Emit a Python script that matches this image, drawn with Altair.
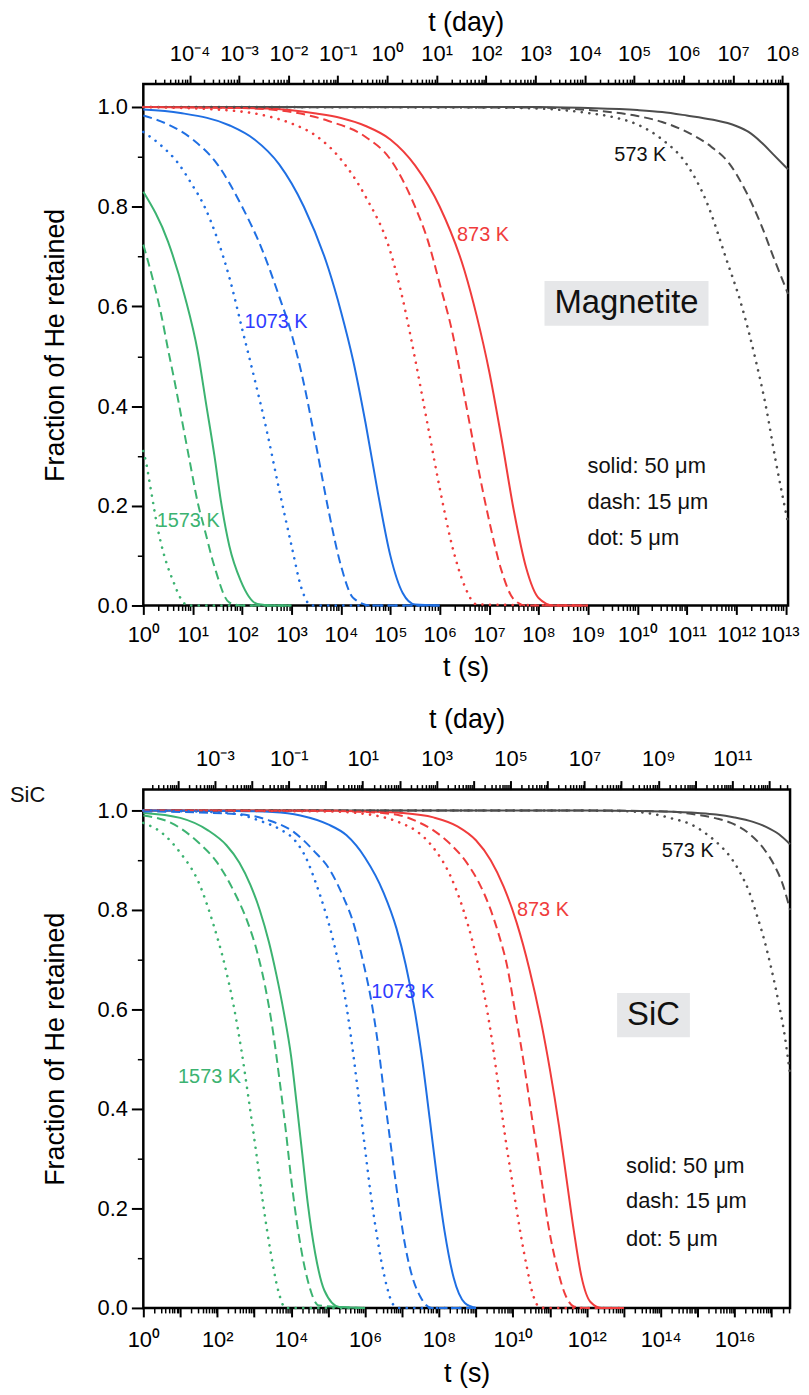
import math
import altair as alt
import pandas as pd

FONT = "Liberation Sans, Arial, Helvetica, sans-serif"
SEC_PER_DAY = 86400.0

TEMPS = ["573 K", "873 K", "1073 K", "1573 K"]
CURVE_COLORS = ["#4d4d4d", "#f03c3c", "#1f6fe3", "#3cb371"]
LABEL_COLORS = ["#111111", "#f03c3c", "#2f3cff", "#3cb371"]

# ---------------- Magnetite (top panel) ----------------
MAG_X_MAX_EXP = 13.05
MAG_Y_MAX = 1.046
MAG_BOTTOM_LABEL_EXPS = list(range(0, 14))
MAG_DAY_LABEL_EXPS = list(range(-4, 9))

mag_573_solid_lx = [0, 8.0, 9.0, 10.0, 10.5, 11.0, 11.5, 12.0, 12.25, 12.5, 12.75, 13.05]
mag_573_solid_f = [1.0, 1.0, 0.998, 0.994, 0.99, 0.983, 0.975, 0.962, 0.95, 0.93, 0.905, 0.875]
mag_573_dash_lx = [0, 8.0, 9.0, 10.0, 10.5, 11.0, 11.5, 11.85, 12.2, 12.5, 12.75, 13.05]
mag_573_dash_f = [1.0, 0.999, 0.994, 0.982, 0.97, 0.95, 0.92, 0.888, 0.83, 0.765, 0.70, 0.625]
mag_573_dot_lx = [0, 7.0, 8.0, 9.0, 9.5, 10.0, 10.5, 11.0, 11.4, 11.8, 12.1, 12.4, 12.6, 12.8, 13.05]
mag_573_dot_f = [1.0, 0.999, 0.997, 0.988, 0.98, 0.965, 0.935, 0.885, 0.81, 0.695, 0.605, 0.49, 0.40, 0.29, 0.165]

mag_873_solid_lx = [0, 2.5, 3.5, 4.0, 4.5, 5.0, 5.5, 6.0, 6.5, 6.75, 7.0, 7.25, 7.5, 7.75, 8.0, 8.3, 9.0]
mag_873_solid_f = [1.0, 0.997, 0.987, 0.978, 0.962, 0.935, 0.883, 0.80, 0.672, 0.58, 0.47, 0.335, 0.19, 0.075, 0.015, 0.0, 0.0]
mag_873_dash_lx = [0, 2.0, 3.0, 3.75, 4.5, 5.0, 5.5, 5.75, 6.0, 6.25, 6.5, 6.75, 7.0, 7.25, 7.5, 7.75, 9.0]
mag_873_dash_f = [1.0, 0.998, 0.99, 0.972, 0.94, 0.895, 0.80, 0.735, 0.645, 0.55, 0.42, 0.29, 0.17, 0.07, 0.012, 0.0, 0.0]
mag_873_dot_lx = [0, 1.5, 2.5, 3.0, 3.5, 4.0, 4.5, 5.0, 5.25, 5.5, 5.75, 6.0, 6.25, 6.5, 6.75, 9.0]
mag_873_dot_f = [1.0, 0.995, 0.982, 0.967, 0.942, 0.895, 0.82, 0.71, 0.615, 0.495, 0.365, 0.235, 0.12, 0.04, 0.002, 0.0]

mag_1073_solid_lx = [0, 0.75, 1.75, 2.25, 2.75, 3.25, 3.75, 4.0, 4.25, 4.5, 4.75, 5.0, 5.25, 5.5, 6.0]
mag_1073_solid_f = [0.995, 0.988, 0.963, 0.935, 0.885, 0.80, 0.675, 0.59, 0.49, 0.365, 0.225, 0.10, 0.025, 0.002, 0.0]
mag_1073_dash_lx = [0, 0.5, 1.0, 1.5, 2.0, 2.4, 2.75, 3.0, 3.25, 3.5, 3.75, 4.0, 4.25, 4.6, 6.0]
mag_1073_dash_f = [0.983, 0.965, 0.935, 0.885, 0.80, 0.715, 0.62, 0.545, 0.445, 0.32, 0.19, 0.08, 0.015, 0.0, 0.0]
mag_1073_dot_lx = [0, 0.37, 0.7, 0.97, 1.24, 1.5, 1.75, 2.0, 2.25, 2.5, 2.75, 3.0, 3.2, 3.4, 6.0]
mag_1073_dot_f = [0.95, 0.922, 0.888, 0.847, 0.80, 0.735, 0.655, 0.555, 0.455, 0.35, 0.232, 0.12, 0.035, 0.0, 0.0]

mag_1573_solid_lx = [0, 0.5, 0.84, 1.10, 1.27, 1.44, 1.57, 1.74, 1.97, 2.31, 2.6, 3.0]
mag_1573_solid_f = [0.83, 0.73, 0.62, 0.51, 0.405, 0.30, 0.21, 0.12, 0.05, 0.003, 0.0, 0.0]
mag_1573_dash_lx = [0, 0.17, 0.37, 0.5, 0.64, 0.77, 0.94, 1.10, 1.24, 1.44, 1.74, 2.0, 3.0]
mag_1573_dash_f = [0.724, 0.663, 0.58, 0.514, 0.446, 0.378, 0.289, 0.207, 0.153, 0.078, 0.006, 0.0, 0.0]
mag_1573_dot_lx = [0, 0.07, 0.13, 0.2, 0.27, 0.37, 0.47, 0.6, 0.77, 0.9, 3.0]
mag_1573_dot_f = [0.31, 0.28, 0.245, 0.205, 0.165, 0.12, 0.085, 0.05, 0.012, 0.0, 0.0]

mag_label_text = ["573 K", "873 K", "1073 K", "1573 K"]
mag_label_lx = [10.06, 6.35, 2.05, 0.27]
mag_label_f = [0.903, 0.744, 0.568, 0.17]
mag_label_align = ["center", "left", "left", "left"]
mag_box_lx = [8.12, 11.44]
mag_box_f = [0.561, 0.651]
mag_name = "Magnetite"
mag_legend_lx = 8.99
mag_legend_f = [0.279, 0.207, 0.135]

# ---------------- SiC (bottom panel) ----------------
SIC_X_MAX_EXP = 17.5
SIC_Y_MAX = 1.042
SIC_BOTTOM_LABEL_EXPS = list(range(0, 17, 2))
SIC_DAY_LABEL_EXPS = list(range(-3, 12, 2))

sic_573_solid_lx = [0, 12.0, 13.25, 14.0, 15.0, 15.5, 16.0, 16.5, 16.85, 17.2, 17.5]
sic_573_solid_f = [1.0, 1.0, 0.999, 0.998, 0.995, 0.992, 0.986, 0.977, 0.967, 0.952, 0.932]
sic_573_dash_lx = [0, 12.0, 14.1, 15.0, 15.5, 15.9, 16.4, 16.8, 17.1, 17.3, 17.5]
sic_573_dash_f = [1.0, 1.0, 0.998, 0.991, 0.984, 0.975, 0.953, 0.922, 0.886, 0.852, 0.80]
sic_573_dot_lx = [0, 11.0, 12.8, 13.7, 14.3, 14.85, 15.25, 15.6, 15.9, 16.15, 16.4, 16.6, 16.8, 17.0, 17.2, 17.35, 17.5]
sic_573_dot_f = [1.0, 1.0, 0.999, 0.994, 0.984, 0.971, 0.952, 0.93, 0.905, 0.875, 0.835, 0.79, 0.74, 0.68, 0.61, 0.55, 0.47]

sic_873_solid_lx = [0, 5.0, 6.0, 7.0, 7.85, 8.5, 9.0, 9.4, 9.75, 10.1, 10.45, 10.75, 11.0, 11.25, 11.45, 11.65, 11.85, 12.1, 12.4, 13.0]
sic_873_solid_f = [1.0, 1.0, 0.998, 0.995, 0.986, 0.968, 0.94, 0.90, 0.847, 0.775, 0.68, 0.58, 0.48, 0.365, 0.26, 0.155, 0.065, 0.012, 0.0, 0.0]
sic_873_dash_lx = [0, 5.0, 6.0, 6.95, 7.4, 7.85, 8.3, 8.75, 9.1, 9.4, 9.6, 9.85, 10.05, 10.3, 10.5, 10.75, 10.95, 11.2, 11.4, 11.65, 12.0, 13.0]
sic_873_dash_f = [1.0, 0.999, 0.997, 0.99, 0.978, 0.96, 0.933, 0.895, 0.852, 0.80, 0.755, 0.685, 0.60, 0.49, 0.39, 0.27, 0.17, 0.08, 0.03, 0.003, 0.0, 0.0]
sic_873_dot_lx = [0, 5.0, 6.0, 6.96, 7.4, 7.85, 8.3, 8.66, 8.93, 9.2, 9.43, 9.6, 9.78, 9.99, 10.23, 10.37, 10.55, 10.7, 10.85, 13.0]
sic_873_dot_f = [1.0, 0.998, 0.993, 0.975, 0.958, 0.925, 0.87, 0.80, 0.73, 0.64, 0.54, 0.45, 0.35, 0.25, 0.14, 0.085, 0.025, 0.003, 0.0, 0.0]

sic_1073_solid_lx = [0, 2.5, 3.5, 4.25, 5.0, 5.5, 6.0, 6.5, 6.85, 7.1, 7.35, 7.55, 7.75, 7.95, 8.15, 8.4, 8.7, 9.0]
sic_1073_solid_f = [1.0, 0.999, 0.997, 0.99, 0.972, 0.95, 0.905, 0.835, 0.763, 0.69, 0.595, 0.497, 0.38, 0.26, 0.155, 0.06, 0.01, 0.0]
sic_1073_dash_lx = [0, 2.5, 3.4, 4.1, 4.6, 5.05, 5.4, 5.7, 5.95, 6.15, 6.35, 6.5, 6.7, 6.9, 7.05, 7.25, 7.5, 7.8, 9.0]
sic_1073_dash_f = [0.998, 0.993, 0.98, 0.955, 0.92, 0.88, 0.828, 0.77, 0.695, 0.625, 0.53, 0.44, 0.325, 0.215, 0.14, 0.07, 0.022, 0.0, 0.0]
sic_1073_dot_lx = [0, 2.3, 3.2, 3.7, 4.1, 4.4, 4.65, 4.95, 5.15, 5.4, 5.6, 5.8, 6.0, 6.15, 6.3, 6.45, 6.6, 6.75, 6.9, 9.0]
sic_1073_dot_f = [1.0, 0.995, 0.978, 0.962, 0.94, 0.905, 0.858, 0.79, 0.735, 0.65, 0.555, 0.44, 0.32, 0.23, 0.155, 0.09, 0.04, 0.008, 0.0, 0.0]

sic_1573_solid_lx = [0, 1.0, 1.75, 2.25, 2.6, 2.9, 3.15, 3.4, 3.6, 3.8, 4.0, 4.15, 4.3, 4.45, 4.65, 4.9, 5.3, 6.0]
sic_1573_solid_f = [0.995, 0.985, 0.96, 0.93, 0.895, 0.85, 0.80, 0.735, 0.67, 0.595, 0.505, 0.41, 0.31, 0.21, 0.11, 0.035, 0.002, 0.0]
sic_1573_dash_lx = [0, 0.75, 1.5, 2.0, 2.5, 2.8, 3.1, 3.3, 3.5, 3.7, 3.85, 4.0, 4.2, 4.45, 4.75, 6.0]
sic_1573_dash_f = [0.99, 0.975, 0.935, 0.895, 0.83, 0.78, 0.71, 0.645, 0.56, 0.45, 0.36, 0.26, 0.15, 0.055, 0.005, 0.0]
sic_1573_dot_lx = [0, 0.5, 1.0, 1.5, 1.9, 2.2, 2.45, 2.65, 2.85, 3.05, 3.25, 3.45, 3.65, 3.85, 6.0]
sic_1573_dot_f = [0.975, 0.955, 0.915, 0.855, 0.77, 0.69, 0.605, 0.52, 0.42, 0.315, 0.205, 0.11, 0.035, 0.0, 0.0]

sic_label_text = ["573 K", "873 K", "1073 K", "1573 K"]
sic_label_lx = [14.73, 10.11, 6.17, 0.94]
sic_label_f = [0.918, 0.80, 0.635, 0.465]
sic_label_align = ["center", "left", "left", "left"]
sic_box_lx = [12.82, 14.79]
sic_box_f = [0.544, 0.633]
sic_name = "SiC"
sic_legend_lx = 13.06
sic_legend_f = [0.285, 0.214, 0.139]
sic_side_label = "SiC"
sic_side_label_lx = -3.13
sic_side_label_f = 1.03

LEGEND_TEXT = ["solid: 50 \u03bcm", "dash: 15 \u03bcm", "dot: 5 \u03bcm"]

MAG_CURVES = [
    ("573 K", "solid", mag_573_solid_lx, mag_573_solid_f),
    ("573 K", "dash", mag_573_dash_lx, mag_573_dash_f),
    ("573 K", "dot", mag_573_dot_lx, mag_573_dot_f),
    ("873 K", "solid", mag_873_solid_lx, mag_873_solid_f),
    ("873 K", "dash", mag_873_dash_lx, mag_873_dash_f),
    ("873 K", "dot", mag_873_dot_lx, mag_873_dot_f),
    ("1073 K", "solid", mag_1073_solid_lx, mag_1073_solid_f),
    ("1073 K", "dash", mag_1073_dash_lx, mag_1073_dash_f),
    ("1073 K", "dot", mag_1073_dot_lx, mag_1073_dot_f),
    ("1573 K", "solid", mag_1573_solid_lx, mag_1573_solid_f),
    ("1573 K", "dash", mag_1573_dash_lx, mag_1573_dash_f),
    ("1573 K", "dot", mag_1573_dot_lx, mag_1573_dot_f),
]
SIC_CURVES = [
    ("573 K", "solid", sic_573_solid_lx, sic_573_solid_f),
    ("573 K", "dash", sic_573_dash_lx, sic_573_dash_f),
    ("573 K", "dot", sic_573_dot_lx, sic_573_dot_f),
    ("873 K", "solid", sic_873_solid_lx, sic_873_solid_f),
    ("873 K", "dash", sic_873_dash_lx, sic_873_dash_f),
    ("873 K", "dot", sic_873_dot_lx, sic_873_dot_f),
    ("1073 K", "solid", sic_1073_solid_lx, sic_1073_solid_f),
    ("1073 K", "dash", sic_1073_dash_lx, sic_1073_dash_f),
    ("1073 K", "dot", sic_1073_dot_lx, sic_1073_dot_f),
    ("1573 K", "solid", sic_1573_solid_lx, sic_1573_solid_f),
    ("1573 K", "dash", sic_1573_dash_lx, sic_1573_dash_f),
    ("1573 K", "dot", sic_1573_dot_lx, sic_1573_dot_f),
]

SUP = str.maketrans("-0123456789", "\u207b\u2070\u00b9\u00b2\u00b3\u2074\u2075\u2076\u2077\u2078\u2079")


def log_tick_values(lo, hi):
    vals = []
    for k in range(math.floor(math.log10(lo)) - 1, math.ceil(math.log10(hi)) + 1):
        for m in range(1, 10):
            v = float(f"{m}e{k}")
            if lo * (1 - 1e-9) <= v <= hi * (1 + 1e-9):
                vals.append(v)
    return vals


def label_expr(exps):
    expr = "''"
    for k in reversed(exps):
        v = float(f"1e{k}")
        expr = f"abs(datum.value / {v!r} - 1) < 1e-6 ? '10{str(k).translate(SUP)}' : ({expr})"
    return expr


MAJOR_TEST = "abs(log(datum.value) / LN10 - round(log(datum.value) / LN10)) < 1e-6"


def x_axis(orient, vals, exps, title, title_y, label_pad=10, shift_last=None):
    kw = {}
    if shift_last is not None:
        v = float(f"1e{shift_last}")
        kw["labelOffset"] = {"condition": {"test": f"abs(datum.value / {v!r} - 1) < 1e-6", "value": -6}, "value": 0}
    return alt.Axis(
        orient=orient, values=vals, labelExpr=label_expr(exps), title=title,
        tickSize={"condition": {"test": MAJOR_TEST, "value": 9}, "value": 5},
        tickWidth={"condition": {"test": MAJOR_TEST, "value": 2}, "value": 1.5},
        tickColor="black", domain=False, grid=False, labelOverlap=False,
        labelFlush=False, labelFontSize=22, labelFont=FONT, labelColor="black",
        labelPadding=label_pad, titleFontSize=27, titleFont=FONT,
        titleFontWeight="normal", titleColor="black", titleY=title_y,
        titleBaseline="middle", **kw,
    )


Y_VALS = [round(i / 10, 1) for i in range(11)]
Y_MAJOR = "round(datum.value * 10) % 2 == 0"


def y_axis():
    return alt.Axis(
        values=Y_VALS, labelExpr=f"{Y_MAJOR} ? format(datum.value, '.1f') : ''",
        title="Fraction of He retained",
        tickSize={"condition": {"test": Y_MAJOR, "value": 12}, "value": 6},
        tickWidth={"condition": {"test": Y_MAJOR, "value": 2}, "value": 1.5},
        tickColor="black", domain=False, grid=False, labelOverlap=False,
        labelFlush=False, labelFontSize=22, labelFont=FONT, labelColor="black",
        labelPadding=4, titleFontSize=27, titleFont=FONT, titleFontWeight="normal",
        titleColor="black", titleX=-88, titleBaseline="middle",
    )


def make_panel(curves, xmax_exp, ymax, width, height, bottom_exps, day_exps,
               lab_text, lab_lx, lab_f, lab_align, box_lx, box_f, name,
               legend_lx, legend_f, title_top, title_bottom, bottom_label_pad=10,
               shift_last=None, side=None):
    tmax = 10 ** xmax_exp
    xs = alt.Scale(type="log", domain=[1, tmax])
    ys = alt.Scale(domain=[0, ymax], nice=False)
    xa = x_axis("bottom", log_tick_values(1, tmax), bottom_exps, "t (s)", title_bottom,
                bottom_label_pad, shift_last)
    ya = y_axis()
    X = alt.X("t:Q", scale=xs, axis=xa)
    Y = alt.Y("F:Q", scale=ys, axis=ya)

    rows = []
    for temp, style, lx, fv in curves:
        for x, f in zip(lx, fv):
            rows.append({"temp": temp, "style": style, "t": 10 ** x, "F": f})
    df = pd.DataFrame(rows)

    layers = []
    box_df = pd.DataFrame({"t": [10 ** box_lx[0]], "t2": [10 ** box_lx[1]],
                           "F": [box_f[0]], "F2": [box_f[1]]})
    layers.append(alt.Chart(box_df).mark_rect(color="#e6e7e9").encode(
        x=X, x2="t2:Q", y=Y, y2="F2:Q"))

    styles = {
        "solid": dict(strokeWidth=2),
        "dash": dict(strokeWidth=2, strokeDash=[9, 5]),
        "dot": dict(strokeWidth=2.6, strokeDash=[0.1, 7.5], strokeCap="round"),
    }
    for style, kw in styles.items():
        layers.append(
            alt.Chart(df[df["style"] == style]).mark_line(interpolate="monotone", **kw).encode(
                x=X, y=Y,
                color=alt.Color("temp:N", scale=alt.Scale(domain=TEMPS, range=CURVE_COLORS), legend=None),
                detail="temp:N",
            )
        )

    lab_df = pd.DataFrame({"t": [10 ** v for v in lab_lx], "F": lab_f, "text": lab_text,
                           "color": [LABEL_COLORS[TEMPS.index(s)] for s in lab_text],
                           "align": lab_align})
    for al in ["left", "center"]:
        sub = lab_df[lab_df["align"] == al]
        layers.append(alt.Chart(sub).mark_text(align=al, baseline="middle", fontSize=20, font=FONT).encode(
            x=X, y=Y, text="text:N", color=alt.Color("color:N", scale=None)))

    name_df = pd.DataFrame({"t": [10 ** ((box_lx[0] + box_lx[1]) / 2)], "F": [(box_f[0] + box_f[1]) / 2], "text": [name]})
    layers.append(alt.Chart(name_df).mark_text(align="center", baseline="middle", fontSize=33, font=FONT, color="#111111").encode(
        x=X, y=Y, text="text:N"))

    leg_df = pd.DataFrame({"t": [10 ** legend_lx] * 3, "F": legend_f, "text": LEGEND_TEXT})
    layers.append(alt.Chart(leg_df).mark_text(align="left", baseline="middle", fontSize=22, font=FONT, color="#111111").encode(
        x=X, y=Y, text="text:N"))

    if side is not None:
        side_df = pd.DataFrame({"t": [10 ** side[1]], "F": [side[2]], "text": [side[0]]})
        layers.append(alt.Chart(side_df).mark_text(align="center", baseline="middle", fontSize=22, font=FONT, color="#111111").encode(
            x=X, y=Y, text="text:N"))

    inner = alt.layer(*layers)

    dmin, dmax = 1 / SEC_PER_DAY, tmax / SEC_PER_DAY
    day_df = pd.DataFrame({"day": [float(f"1e{k}") for k in day_exps]})
    day_layer = alt.Chart(day_df).mark_point(opacity=0).encode(
        x=alt.X("day:Q", scale=alt.Scale(type="log", domain=[dmin, dmax]),
                axis=x_axis("top", log_tick_values(dmin, dmax), day_exps, "t (day)", title_top)))

    return alt.layer(inner, day_layer).resolve_scale(x="independent").properties(width=width, height=height)


top = make_panel(MAG_CURVES, MAG_X_MAX_EXP, MAG_Y_MAX, 648, 524, MAG_BOTTOM_LABEL_EXPS, MAG_DAY_LABEL_EXPS,
                 mag_label_text, mag_label_lx, mag_label_f, mag_label_align, mag_box_lx, mag_box_f,
                 mag_name, mag_legend_lx, mag_legend_f, title_top=-61.5, title_bottom=62, shift_last=13)
bottom = make_panel(SIC_CURVES, SIC_X_MAX_EXP, SIC_Y_MAX, 650, 521, SIC_BOTTOM_LABEL_EXPS, SIC_DAY_LABEL_EXPS,
                    sic_label_text, sic_label_lx, sic_label_f, sic_label_align, sic_box_lx, sic_box_f,
                    sic_name, sic_legend_lx, sic_legend_f, title_top=-70, title_bottom=66,
                    bottom_label_pad=13,
                    side=(sic_side_label, sic_side_label_lx, sic_side_label_f))

chart = alt.vconcat(top, bottom, spacing=22).properties(
    padding={"left": 0, "top": -4, "right": 0, "bottom": 0}
).configure(font=FONT).configure_view(stroke="black", strokeWidth=2.5)

chart.save("out.html", embed_options={"renderer": "svg", "actions": False})
